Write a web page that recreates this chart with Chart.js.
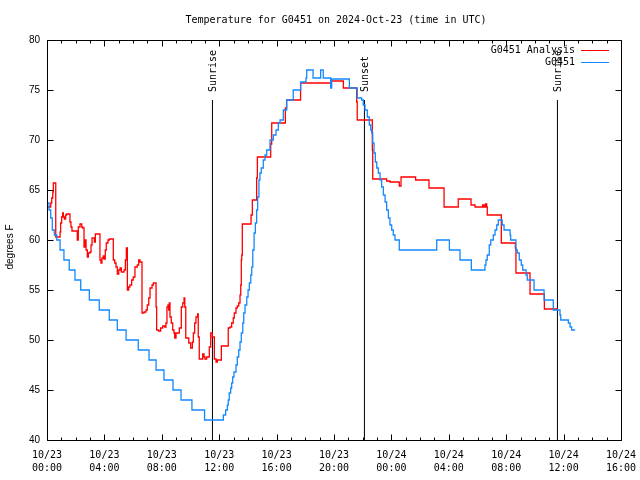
<!DOCTYPE html>
<html>
<head>
<meta charset="utf-8">
<title>Temperature for G0451</title>
<script src="https://cdn.jsdelivr.net/npm/chart.js@4.4.1/dist/chart.umd.min.js"></script>
<style>
    html, body { margin: 0; padding: 0; background: #fff; }
    #div_c1 { width: 640px; height: 480px; }
</style>
</head>
<body>
<div id="div_c1"><canvas id="Chart1" width="640" height="480"></canvas></div>
<script>
// hours since 2024-10-23 00:00 UTC
var chartTitle = 'Temperature for G0451 on 2024-Oct-23 (time in UTC)';
var yTitle = 'degrees F';
var xMin = 0, xMax = 40, xLabelStep = 4;
var yMin = 40, yMax = 80, yStep = 5;

var analysisLabel = 'G0451 Analysis';
var analysisHours = [0.00,0.26,0.33,0.40,0.44,0.61,0.91,0.95,1.02,1.09,
    1.14,1.21,1.30,1.37,1.60,1.67,1.74,2.11,2.18,2.30,
    2.42,2.49,2.58,2.65,2.72,2.81,2.88,3.00,3.07,3.14,
    3.30,3.37,3.69,3.76,3.83,3.92,3.97,4.06,4.13,4.25,
    4.34,4.62,4.72,4.81,4.90,5.00,5.09,5.18,5.37,5.46,
    5.53,5.60,5.69,5.78,5.90,6.01,6.13,6.29,6.39,6.48,
    6.62,6.76,6.90,6.99,7.09,7.18,7.32,7.41,7.60,7.64,
    7.78,7.92,8.06,8.20,8.29,8.36,8.43,8.48,8.52,8.57,
    8.66,8.76,8.85,8.90,8.99,9.22,9.36,9.46,9.55,9.60,
    9.67,9.88,10.01,10.13,10.20,10.29,10.38,10.50,10.54,10.61,
    10.85,10.94,11.01,11.13,11.31,11.41,11.52,11.66,11.78,11.87,
    12.15,12.63,12.75,12.87,12.98,13.05,13.17,13.26,13.36,13.45,
    13.50,13.54,13.57,13.61,14.22,14.31,14.61,14.66,15.59,15.66,
    16.61,16.70,17.67,19.77,20.65,21.58,21.62,22.67,22.70,23.67,
    23.90,24.55,24.67,25.69,26.62,27.67,28.66,29.55,29.83,30.36,
    30.45,30.55,30.64,30.68,31.66,32.64,32.68,33.66,34.66,35.61];
var analysisTemps = [63.3,63.7,64.2,64.8,65.7,60.3,60.8,61.7,62.3,62.7,
    62.3,62.1,62.5,62.6,61.8,61.3,60.9,60.0,61.3,61.6,
    61.3,61.2,59.3,60.0,59.0,58.3,58.7,58.8,59.5,60.2,
    59.8,60.6,58.0,57.7,58.2,58.4,58.1,59.0,59.7,60.0,
    60.1,58.0,57.7,57.3,56.6,57.0,57.2,56.8,57.0,58.0,
    59.2,55.0,55.3,55.5,56.0,56.3,57.3,57.5,58.0,57.8,
    52.7,52.8,53.0,53.5,54.2,55.2,55.5,55.7,53.3,51.0,
    50.9,51.2,51.4,51.3,51.7,53.3,53.5,53.0,53.7,52.3,
    51.7,51.0,50.7,50.2,50.7,51.2,53.3,53.7,54.2,53.3,
    50.2,49.7,49.2,49.8,50.7,51.7,52.3,52.6,50.3,48.1,
    48.6,48.3,48.1,48.3,49.3,50.7,50.3,48.1,47.8,48.0,
    49.4,51.2,51.3,51.7,52.2,52.7,53.2,53.4,53.7,54.5,
    55.5,58.0,58.5,61.6,62.5,64.0,66.2,68.3,69.6,71.7,
    73.2,74.0,75.7,75.9,75.2,73.8,72.0,69.0,66.1,65.9,
    65.8,65.4,66.3,66.0,65.2,63.3,64.1,63.5,63.3,63.5,
    63.3,63.6,63.3,62.5,59.7,59.2,56.7,54.6,53.1,53.1];

var stationLabel = 'G0451';
var stationHours = [0.00,0.14,0.26,0.37,0.51,0.68,0.91,1.18,1.55,1.95,
    2.35,2.95,3.64,4.34,4.90,5.51,6.36,7.11,7.60,8.15,
    8.78,9.34,10.10,10.98,12.29,12.45,12.57,12.63,12.70,12.80,
    12.87,12.94,13.03,13.17,13.26,13.36,13.45,13.54,13.64,13.71,
    13.80,13.92,14.01,14.10,14.20,14.27,14.34,14.43,14.52,14.61,
    14.68,14.77,14.84,14.93,15.07,15.19,15.31,15.54,15.77,15.96,
    16.12,16.24,16.47,16.70,17.16,17.68,18.05,18.10,18.54,19.07,
    19.25,19.77,19.84,21.07,21.62,21.93,22.04,22.16,22.32,22.46,
    22.56,22.63,22.70,22.79,22.88,22.98,23.09,23.21,23.32,23.44,
    23.56,23.67,23.79,23.90,24.02,24.13,24.25,24.55,27.16,28.04,
    28.78,29.57,30.52,30.59,30.68,30.82,30.92,31.10,31.22,31.34,
    31.45,31.72,31.85,32.27,32.31,32.68,32.77,32.91,33.05,
    33.15,33.38,33.47,33.94,34.64,35.28,35.75,35.80,36.33,36.45,
    36.56,36.80];
var stationTemps = [63.7,63.0,62.2,61.0,60.5,60.0,59.0,58.0,57.0,56.0,
    55.0,54.0,53.0,52.0,51.0,50.0,49.0,48.0,47.0,46.0,
    45.0,44.0,43.0,42.0,42.5,43.0,43.5,44.0,44.7,45.2,
    45.7,46.3,46.8,47.5,48.3,49.0,49.8,50.7,51.7,52.7,
    53.5,54.3,55.0,55.7,56.5,57.3,59.0,60.7,61.7,63.0,
    64.3,66.0,66.7,67.2,68.0,68.5,69.0,70.0,70.5,71.0,
    71.7,72.0,73.0,74.0,75.0,75.8,76.2,77.0,76.2,77.0,
    76.2,75.2,76.1,75.2,74.2,74.0,73.5,73.0,72.3,71.5,
    71.0,70.7,69.7,68.7,67.8,67.2,66.7,66.0,65.3,64.5,
    63.8,63.0,62.2,61.5,61.0,60.5,60.0,59.0,60.0,59.0,
    58.0,57.0,57.5,58.0,58.5,59.5,60.0,60.5,61.0,61.5,
    62.0,61.5,61.0,60.5,60.0,59.0,58.7,58.0,57.5,
    57.0,56.5,56.0,55.0,54.0,53.0,52.5,52.0,51.7,51.3,
    51.0,51.0];

var sunHours = [11.53, 22.12, 35.57];
var sunLabels = ['Sunrise', 'Sunset', 'Sunrise'];
var sunLineTop = 74;

var monoFont = '"DejaVu Sans Mono", "Liberation Mono", monospace';
var sansFont = '"Liberation Sans", "DejaVu Sans", sans-serif';

function toPoints(xs, ys) {
    var pts = [];
    for (var i = 0; i < xs.length; i++) {
        pts.push({ x: xs[i], y: ys[i] });
    }
    return pts;
}

function pad2(n) {
    return (n < 10 ? '0' : '') + n;
}

function hourLabel(value) {
    var day = 23 + Math.floor(value / 24);
    var hr = value % 24;
    return ['10/' + day, pad2(hr) + ':00'];
}

// gnuplot style box, inward ticks, title, legend and sun labels
var gnuplotDecor = {
    id: 'gnuplotDecor',
    afterDatasetsDraw: function (chart) {
        var ctx = chart.ctx;
        var a = chart.chartArea;
        var xs = chart.scales.x;
        var ys = chart.scales.y;
        var L = a.left + 0.5, R = a.right + 0.5, T = a.top + 0.5, B = a.bottom + 0.5;

        ctx.save();
        ctx.strokeStyle = '#000';
        ctx.lineWidth = 1;
        ctx.beginPath();
        ctx.moveTo(L, T); ctx.lineTo(R, T); ctx.lineTo(R, B); ctx.lineTo(L, B); ctx.closePath();

        for (var h = xMin; h <= xMax; h++) {
            var px = Math.round(xs.getPixelForValue(h)) + 0.5;
            var len = (h % xLabelStep === 0) ? 6 : 3;
            ctx.moveTo(px, B); ctx.lineTo(px, B - len);
            ctx.moveTo(px, T); ctx.lineTo(px, T + len);
        }
        for (var v = yMin; v <= yMax; v += yStep) {
            var py = Math.round(ys.getPixelForValue(v)) + 0.5;
            ctx.moveTo(L, py); ctx.lineTo(L + 6, py);
            ctx.moveTo(R, py); ctx.lineTo(R - 6, py);
        }
        ctx.stroke();

        ctx.fillStyle = '#000';
        ctx.font = '10px ' + monoFont;
        ctx.textAlign = 'center';
        ctx.textBaseline = 'middle';
        ctx.fillText(chartTitle, (a.left + a.right) / 2 + 2, 20);

        // sun event labels
        for (var i = 0; i < sunHours.length; i++) {
            var sx = xs.getPixelForValue(sunHours[i]);
            var sy = ys.getPixelForValue(sunLineTop) - 8;
            ctx.save();
            ctx.translate(sx + 1, sy);
            ctx.rotate(-Math.PI / 2);
            ctx.textAlign = 'left';
            ctx.textBaseline = 'middle';
            ctx.fillText(sunLabels[i], 0, 0);
            ctx.restore();
        }

        // y axis title
        ctx.save();
        ctx.font = '10px ' + sansFont;
        ctx.translate(10, (a.top + a.bottom) / 2 + 7);
        ctx.rotate(-Math.PI / 2);
        ctx.textAlign = 'center';
        ctx.textBaseline = 'middle';
        ctx.fillText(yTitle, 0, 0);
        ctx.restore();

        // legend
        var legendItems = [chart.data.datasets[0], chart.data.datasets[1]];
        for (var k = 0; k < legendItems.length; k++) {
            var ly = 50 + k * 12 + 0.5;
            ctx.textAlign = 'right';
            ctx.fillText(legendItems[k].label, 575, ly);
            ctx.strokeStyle = legendItems[k].borderColor;
            ctx.beginPath();
            ctx.moveTo(581, ly);
            ctx.lineTo(609, ly);
            ctx.stroke();
        }
        ctx.restore();
    }
};

function drawChart() {
    var ctx1 = document.getElementById('Chart1');

    var datasets = [{
        label: analysisLabel,
        data: toPoints(analysisHours, analysisTemps),
        borderColor: '#ff0000',
        borderWidth: 1.3,
        pointRadius: 0,
        stepped: 'before',
        order: 2
    }, {
        label: stationLabel,
        data: toPoints(stationHours, stationTemps),
        borderColor: '#1488ff',
        borderWidth: 1.3,
        pointRadius: 0,
        stepped: 'before',
        order: 1
    }];

    for (var i = 0; i < sunHours.length; i++) {
        datasets.push({
            label: sunLabels[i],
            data: [{ x: sunHours[i], y: yMin }, { x: sunHours[i], y: sunLineTop }],
            borderColor: '#000000',
            borderWidth: 1,
            pointRadius: 0,
            order: 3
        });
    }

    var crt1 = new Chart(ctx1, {
        type: 'line',
        data: { datasets: datasets },
        options: {
            responsive: false,
            animation: false,
            events: [],
            layout: {
                padding: { top: 40, right: 19, left: 0, bottom: 0 }
            },
            scales: {
                x: {
                    type: 'linear',
                    min: xMin,
                    max: xMax,
                    border: { display: false },
                    grid: { display: false, drawTicks: false, tickLength: 0 },
                    ticks: {
                        stepSize: xLabelStep,
                        autoSkip: false,
                        maxRotation: 0,
                        padding: 9,
                        color: '#000',
                        font: { family: monoFont, size: 10, lineHeight: 1.3 },
                        callback: function (value) {
                            return hourLabel(value);
                        }
                    },
                    afterFit: function (scale) {
                        scale.height = 40;
                        scale.paddingLeft = 0;
                        scale.paddingRight = 0;
                    }
                },
                y: {
                    min: yMin,
                    max: yMax,
                    border: { display: false },
                    grid: { display: false, drawTicks: false, tickLength: 0 },
                    ticks: {
                        stepSize: yStep,
                        padding: 7,
                        color: '#000',
                        font: { family: sansFont, size: 10 }
                    },
                    afterFit: function (scale) {
                        scale.width = 47;
                        scale.paddingTop = 0;
                        scale.paddingBottom = 0;
                    }
                }
            },
            plugins: {
                legend: { display: false },
                title: { display: false },
                tooltip: { enabled: false }
            }
        },
        plugins: [gnuplotDecor]
    });
}

drawChart();
</script>
</body>
</html>
